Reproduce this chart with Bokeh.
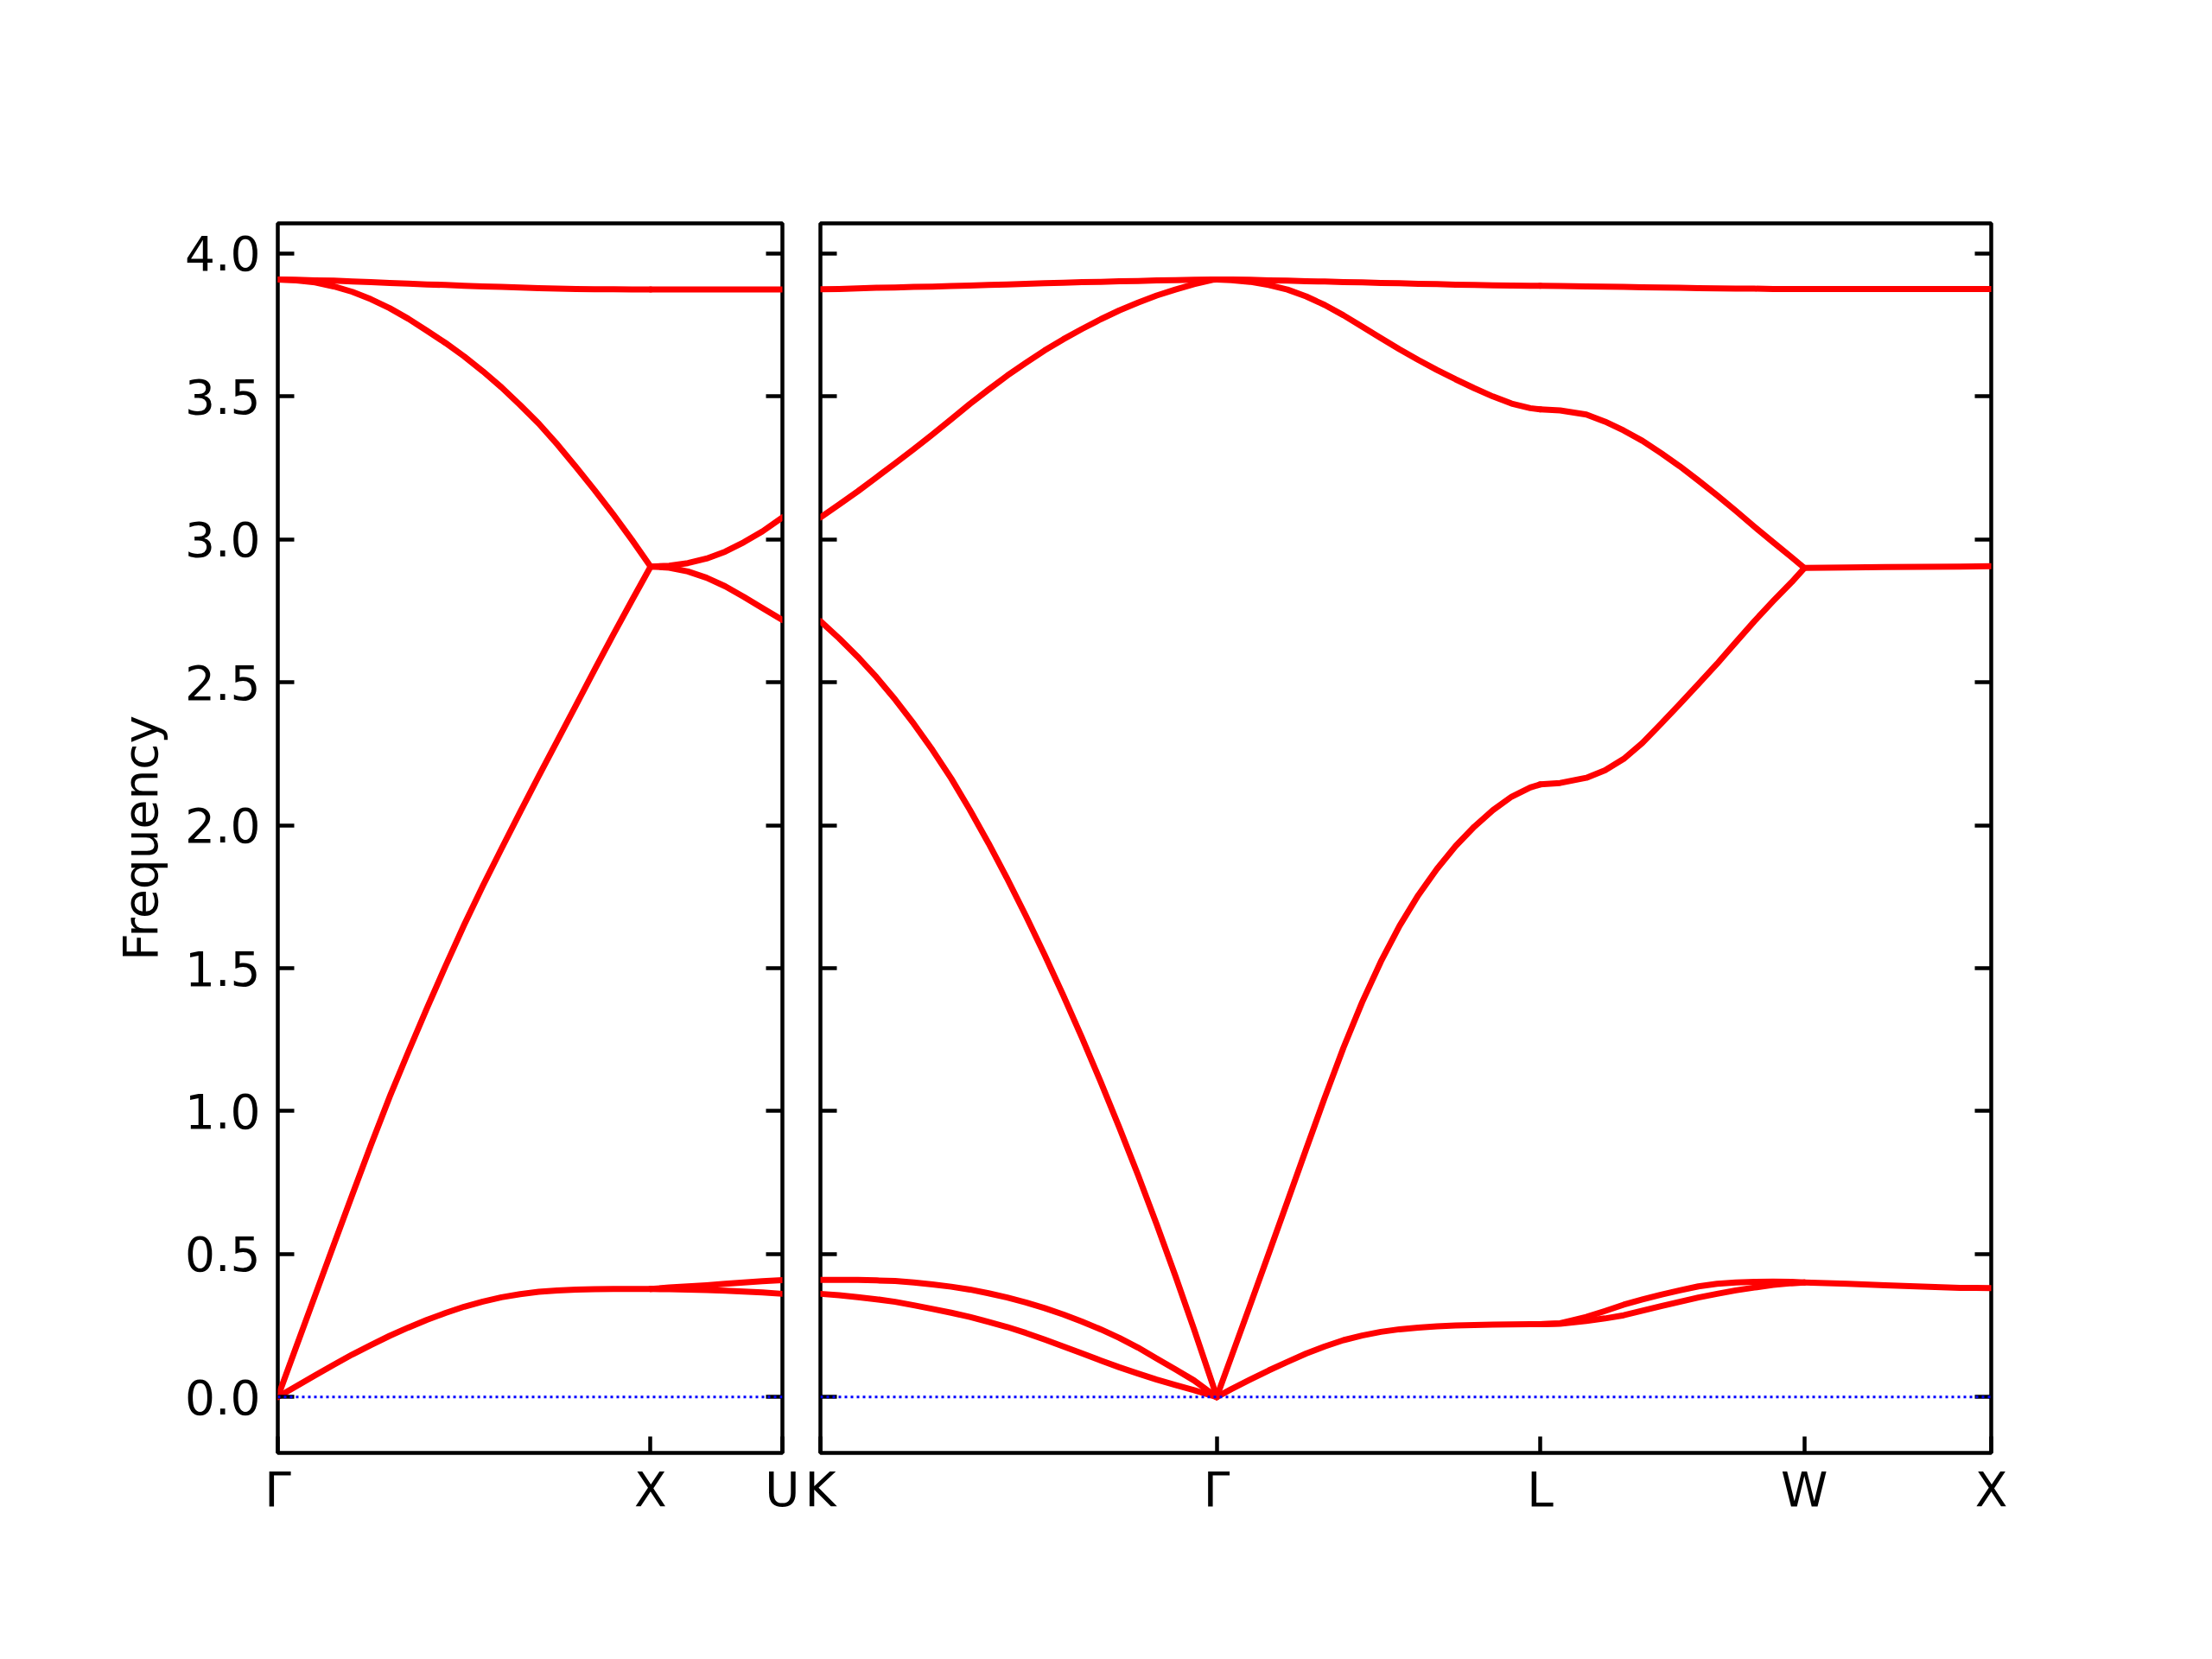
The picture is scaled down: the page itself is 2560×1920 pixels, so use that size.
from bokeh.plotting import figure
from bokeh.models import Range1d, FixedTicker, NumeralTickFormatter, LinearAxis, Span
from bokeh.layouts import row
from bokeh.embed import file_html
from bokeh.resources import INLINE

# ---------------- data ----------------
y_ticks = [0.0, 0.5, 1.0, 1.5, 2.0, 2.5, 3.0, 3.5, 4.0]
y_label = "Frequency"

left_tick_pos = [0.0, 1.0, 1.35355]
left_tick_lab = ["Γ", "X", "U"]
right_tick_pos = [0.0, 1.06066, 1.92669, 2.63380, 3.13380]
right_tick_lab = ["K", "Γ", "L", "W", "X"]

# Γ-X
GX_d = [0.0, 0.05, 0.1, 0.15, 0.2, 0.25, 0.3, 0.35, 0.4, 0.45, 0.5,
        0.55, 0.6, 0.65, 0.7, 0.75, 0.8, 0.85, 0.9, 0.95, 1.0]
GX_top = [3.909, 3.908, 3.906, 3.905, 3.902, 3.900, 3.897, 3.895, 3.892, 3.890, 3.887,
          3.885, 3.883, 3.881, 3.879, 3.877, 3.876, 3.875, 3.875, 3.874, 3.874]
GX_to = [3.909, 3.906, 3.899, 3.885, 3.866, 3.840, 3.809, 3.772, 3.730, 3.687, 3.640,
         3.588, 3.532, 3.470, 3.405, 3.332, 3.253, 3.172, 3.087, 2.998, 2.905]
GX_la = [0.0, 0.178, 0.355, 0.532, 0.708, 0.882, 1.050, 1.207, 1.360, 1.508, 1.652,
         1.788, 1.918, 2.046, 2.172, 2.296, 2.420, 2.545, 2.667, 2.787, 2.905]
GX_ta = [0.0, 0.038, 0.076, 0.113, 0.149, 0.182, 0.214, 0.243, 0.270, 0.294, 0.316,
         0.334, 0.349, 0.360, 0.368, 0.373, 0.376, 0.377, 0.378, 0.378, 0.378]

# X-U
XU_d = [1.0, 1.05, 1.1, 1.15, 1.2, 1.25, 1.3, 1.35355]
XU_top = [3.874, 3.874, 3.874, 3.874, 3.874, 3.874, 3.874, 3.874]
XU_up = [2.905, 2.908, 2.917, 2.933, 2.957, 2.990, 3.028, 3.077]
XU_lo = [2.905, 2.901, 2.888, 2.866, 2.836, 2.799, 2.760, 2.718]
XU_ta1 = [0.378, 0.383, 0.387, 0.391, 0.396, 0.401, 0.405, 0.409]
XU_ta2 = [0.378, 0.377, 0.376, 0.374, 0.372, 0.369, 0.366, 0.361]

# K-Γ
KG_d = [0.0, 0.05, 0.1, 0.15, 0.2, 0.25, 0.3, 0.35, 0.4, 0.45, 0.5, 0.55,
        0.6, 0.65, 0.7, 0.75, 0.8, 0.85, 0.9, 0.95, 1.0, 1.05, 1.06066]
KG_top = [3.875, 3.876, 3.878, 3.880, 3.881, 3.883, 3.884, 3.886, 3.888, 3.890, 3.892, 3.894,
          3.896, 3.898, 3.900, 3.901, 3.903, 3.904, 3.906, 3.907, 3.908, 3.909, 3.909]
KG_to = [3.077, 3.122, 3.168, 3.217, 3.266, 3.316, 3.367, 3.420, 3.474, 3.524, 3.573, 3.618,
         3.661, 3.700, 3.736, 3.770, 3.801, 3.828, 3.853, 3.874, 3.893, 3.908, 3.909]
KG_la = [2.714, 2.654, 2.589, 2.518, 2.440, 2.355, 2.263, 2.164, 2.054, 1.937, 1.813, 1.683,
         1.547, 1.405, 1.257, 1.103, 0.943, 0.777, 0.604, 0.424, 0.237, 0.044, 0.0]
KG_ta1 = [0.410, 0.410, 0.410, 0.408, 0.406, 0.401, 0.394, 0.386, 0.376, 0.363, 0.348, 0.331,
          0.311, 0.289, 0.264, 0.237, 0.207, 0.173, 0.135, 0.097, 0.058, 0.010, 0.0]
KG_ta2 = [0.361, 0.356, 0.349, 0.342, 0.333, 0.321, 0.308, 0.295, 0.280, 0.263, 0.245, 0.224,
          0.201, 0.177, 0.153, 0.128, 0.104, 0.082, 0.061, 0.042, 0.024, 0.004, 0.0]

# Γ-L
GL_d = [1.06066, 1.1, 1.15, 1.2, 1.25, 1.3, 1.35, 1.4, 1.45, 1.5,
        1.55, 1.6, 1.65, 1.7, 1.75, 1.8, 1.85, 1.9, 1.92669]
GL_top = [3.909, 3.909, 3.908, 3.906, 3.905, 3.903, 3.902, 3.900, 3.899, 3.897,
          3.896, 3.894, 3.893, 3.891, 3.890, 3.889, 3.888, 3.887, 3.887]
GL_to = [3.909, 3.907, 3.901, 3.890, 3.874, 3.850, 3.820, 3.784, 3.744, 3.704,
         3.665, 3.628, 3.593, 3.560, 3.529, 3.500, 3.475, 3.459, 3.455]
GL_la = [0.0, 0.141, 0.321, 0.502, 0.684, 0.867, 1.048, 1.222, 1.381, 1.523,
         1.648, 1.755, 1.847, 1.927, 1.995, 2.053, 2.100, 2.132, 2.143]
GL_ta = [0.0, 0.028, 0.061, 0.093, 0.123, 0.152, 0.177, 0.199, 0.215, 0.228,
         0.237, 0.243, 0.247, 0.250, 0.252, 0.253, 0.254, 0.255, 0.255]

# L-W
LW_d = [1.92669, 1.98, 2.05, 2.1, 2.15, 2.2, 2.25, 2.3, 2.35, 2.4, 2.45, 2.5, 2.55, 2.6, 2.6338]
LW_top = [3.887, 3.886, 3.885, 3.884, 3.883, 3.882, 3.881, 3.880, 3.879, 3.878, 3.877, 3.877, 3.876, 3.876, 3.876]
LW_up = [3.455, 3.451, 3.437, 3.412, 3.381, 3.345, 3.302, 3.256, 3.206, 3.154, 3.100, 3.044, 2.990, 2.937, 2.900]
LW_lo = [2.143, 2.148, 2.166, 2.192, 2.232, 2.288, 2.355, 2.424, 2.494, 2.565, 2.640, 2.714, 2.784, 2.851, 2.900]
LW_ta1 = [0.255, 0.258, 0.280, 0.301, 0.323, 0.341, 0.358, 0.373, 0.387, 0.396, 0.401, 0.403, 0.404, 0.403, 0.401]
LW_ta2 = [0.255, 0.256, 0.266, 0.275, 0.286, 0.302, 0.318, 0.333, 0.348, 0.361, 0.373, 0.383, 0.392, 0.398, 0.401]

# W-X
WX_d = [2.6338, 2.75, 2.85, 2.95, 3.05, 3.1338]
WX_top = [3.876, 3.876, 3.876, 3.876, 3.876, 3.876]
WX_mid = [2.900, 2.902, 2.903, 2.904, 2.905, 2.906]
WX_ta = [0.401, 0.396, 0.391, 0.386, 0.382, 0.381]

left_segments = [
    (GX_d, [GX_top, GX_to, GX_la, GX_ta]),
    (XU_d, [XU_top, XU_up, XU_lo, XU_ta1, XU_ta2]),
]
right_segments = [
    (KG_d, [KG_top, KG_to, KG_la, KG_ta1, KG_ta2]),
    (GL_d, [GL_top, GL_to, GL_la, GL_ta]),
    (LW_d, [LW_top, LW_up, LW_lo, LW_ta1, LW_ta2]),
    (WX_d, [WX_top, WX_mid, WX_ta]),
]

# ---------------- styling ----------------
FONT = "DejaVu Sans"
FS = "55px"
Y0, Y1 = -0.1955, 4.1055
TOP, FRAME_H, BOTTOM = 258, 1423, 220
LINE_W = 4.5
TICK_LEN = 19


def style_axis(ax, ticks, labels=None, show_labels=True, standoff=20):
    ax.ticker = FixedTicker(ticks=ticks)
    ax.axis_line_color = None
    ax.major_tick_in = TICK_LEN
    ax.major_tick_out = 0
    ax.major_tick_line_color = "black"
    ax.major_tick_line_width = LINE_W
    ax.minor_tick_line_color = None
    ax.major_label_text_font = FONT
    if labels is not None:
        ax.major_label_overrides = {t: l for t, l in zip(ticks, labels)}
    if show_labels:
        ax.major_label_text_color = "black"
        ax.major_label_text_font_size = FS
        ax.major_label_standoff = standoff
    else:
        # tick marks only: labels are not painted
        ax.major_label_text_color = None
        ax.major_label_text_font_size = "1px"
        ax.major_label_standoff = 0


def make_panel(xmax, frame_w, lb, rb, tick_pos, tick_lab, segments, with_ylabels):
    p = figure(width=lb + frame_w + rb, height=TOP + FRAME_H + BOTTOM,
               x_range=Range1d(0, xmax), y_range=Range1d(Y0, Y1),
               output_backend="svg", toolbar_location=None,
               min_border_left=lb, min_border_right=rb,
               min_border_top=TOP, min_border_bottom=BOTTOM)
    p.outline_line_color = "black"
    p.outline_line_width = LINE_W
    p.xgrid.visible = False
    p.ygrid.visible = False
    p.background_fill_color = "white"
    p.border_fill_color = "white"

    style_axis(p.xaxis[0], tick_pos, tick_lab, True, standoff=10)
    ya = p.yaxis[0]
    style_axis(ya, y_ticks, None, with_ylabels)
    ya.formatter = NumeralTickFormatter(format="0.0")
    if with_ylabels:
        ya.axis_label = y_label
        ya.axis_label_text_font = FONT
        ya.axis_label_text_font_size = FS
        ya.axis_label_text_font_style = "normal"
        ya.axis_label_text_color = "black"
        ya.axis_label_standoff = 16
    ra = LinearAxis()
    style_axis(ra, y_ticks, None, False)
    p.add_layout(ra, "right")

    p.add_layout(Span(location=0, dimension="width", line_color="#0000ff",
                      line_width=3, line_dash="3 4"))
    for d, bands in segments:
        for vals in bands:
            p.line(d, vals, line_color="#ff0000", line_width=7,
                   line_join="round", line_cap="round")
    return p


p1 = make_panel(left_tick_pos[-1], 584, 321, 22, left_tick_pos, left_tick_lab,
                left_segments, True)
p2 = make_panel(right_tick_pos[-1], 1355, 22, 200, right_tick_pos, right_tick_lab,
                right_segments, False)

layout = row(p1, p2)
open("out.html", "w").write(file_html(layout, INLINE))
